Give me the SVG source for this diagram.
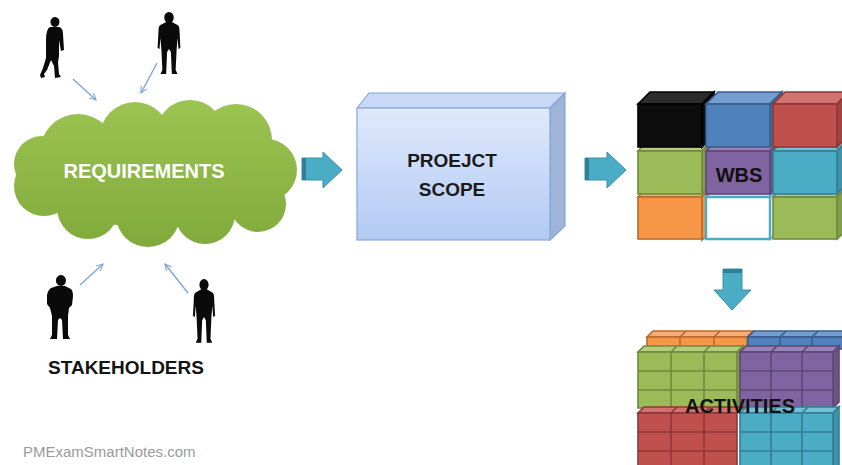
<svg xmlns="http://www.w3.org/2000/svg" width="842" height="465" viewBox="0 0 842 465">
  <defs>
    <style>
      .lbl { font-family: "Liberation Sans", Arial, sans-serif; font-weight: bold; text-anchor: middle; }
      .person { fill: #0a0a0a; }
      .thin { fill: none; stroke: #7ea6d8; stroke-width: 1.4; }
      .barrow { fill: #4bacc6; stroke: #3a90a8; stroke-width: 1; }
      .bevel { fill: #2f8097; }
      .cell { stroke-width: 1.6; }
      .c-org { fill: #f79646; stroke: #b9692e; }
      .c-org-t { fill: #f9ad75; stroke: #b9692e; }
      .c-blu { fill: #4f81bd; stroke: #385d8a; }
      .c-blu-t { fill: #769dd0; stroke: #385d8a; }
      .c-blu-s { fill: #3f6ba1; stroke: #385d8a; }
      .c-red { fill: #c0504d; stroke: #8c3836; }
      .c-red-t { fill: #d27370; stroke: #8c3836; }
      .c-red-s { fill: #a24340; stroke: #8c3836; }
      .c-grn { fill: #9bbb59; stroke: #71893f; }
      .c-grn-t { fill: #b3cd7b; stroke: #71893f; }
      .c-grn-s { fill: #83a049; stroke: #71893f; }
      .c-pur { fill: #8064a2; stroke: #5c4776; }
      .c-pur-t { fill: #9a83b7; stroke: #5c4776; }
      .c-pur-s { fill: #6c5489; stroke: #5c4776; }
      .c-tea { fill: #4bacc6; stroke: #357d91; }
      .c-tea-t { fill: #74c0d4; stroke: #357d91; }
      .c-tea-s { fill: #3c93aa; stroke: #357d91; }
      .c-blk { fill: #0d0d0d; stroke: #000; }
      .c-blk-t { fill: #2c2c2c; stroke: #000; }
      .c-wht { fill: #ffffff; stroke: #4bacc6; }
      .c-wht-t { fill: #eaf6f9; stroke: #4bacc6; }
    </style>
    <linearGradient id="cloudFill" gradientUnits="userSpaceOnUse" x1="0" y1="100" x2="0" y2="247">
      <stop offset="0" stop-color="#9cc452"/>
      <stop offset="1" stop-color="#80aa3b"/>
    </linearGradient>
    <linearGradient id="boxFront" x1="0" y1="0" x2="0" y2="1">
      <stop offset="0" stop-color="#dfe9fc"/>
      <stop offset="1" stop-color="#b2caf3"/>
    </linearGradient>
    <marker id="vhead" viewBox="0 0 10 10" refX="9" refY="5" markerWidth="8" markerHeight="8" orient="auto" markerUnits="userSpaceOnUse">
      <path d="M1,1 L9,5 L1,9" fill="none" stroke="#7ea6d8" stroke-width="1.4"/>
    </marker>
    <!-- standing figure, feet at y=62 -->
    <path id="standing" d="M-3,10 L3,10 L9,13 Q11,14 11,18 L12,36 L10,37 L9,26 L8,38 L7,58 L9,62 L3,62 L2,40 L0,37 L-2,40 L-3,62 L-9,62 L-7,58 L-8,38 L-9,26 L-10,37 L-12,36 L-11,18 Q-11,14 -9,13 Z M0,0 A5,5.5 0 1 1 0,11 A5,5.5 0 1 1 0,0 Z"/>
  </defs>

  <rect width="842" height="465" fill="#ffffff"/>

  <!-- requirements cloud -->
  <g id="requirements">
    <g fill="url(#cloudFill)">
      <ellipse cx="155" cy="173" rx="122" ry="55"/>
      <circle cx="78" cy="152" r="38"/>
      <circle cx="135" cy="137" r="35"/>
      <circle cx="190" cy="134" r="34"/>
      <circle cx="236" cy="140" r="36"/>
      <circle cx="266" cy="170" r="31"/>
      <circle cx="258" cy="204" r="28"/>
      <circle cx="205" cy="214" r="30"/>
      <circle cx="148" cy="215" r="32"/>
      <circle cx="88" cy="208" r="31"/>
      <circle cx="44" cy="186" r="30"/>
      <circle cx="42" cy="164" r="28"/>
    </g>
    <text class="lbl" x="144" y="178" font-size="20" fill="#ffffff">REQUIREMENTS</text>
  </g>

  <!-- stakeholders -->
  <g id="stakeholders">
    <!-- walking figure -->
    <path class="person" d="M55,17 a4.5,5 0 1 1 -0.1,0 Z M50,27 L59,27 Q63,28 63,34 L64,50 L61,51 L59,40 L59,56 L58,62 L59,74 L61,77 L55,78 L54,66 L51,60 L47,70 L44,74 L45,77 L41,78 L40,75 L43,68 L46,58 L46,40 Q46,29 50,27 Z"/>
    <use href="#standing" class="person" transform="translate(169,12) scale(0.95,1)"/>
    <!-- arms-folded figure -->
    <path class="person" d="M61,275 a5,5.5 0 1 1 -0.1,0 Z M57,286 L65,286 L71,289 Q73,291 73,296 L72,305 L69,308 L68,316 L68,335 L70,339 L63,339 L62,320 L60,318 L58,320 L57,339 L50,339 L52,335 L52,316 L50,308 L47,304 L47,295 Q48,290 51,288 Z"/>
    <use href="#standing" class="person" transform="translate(204,279) scale(0.92,1.03)"/>
    <text class="lbl" x="126" y="374" font-size="19" fill="#141414">STAKEHOLDERS</text>
  </g>

  <!-- project scope box -->
  <g id="project-scope">
    <polygon points="357,108 369,93 565,93 550,108" fill="#c9d9f5" stroke="#87a5d8" stroke-width="1.2"/>
    <polygon points="550,108 565,93 565,226 550,240" fill="#9fb4d9" stroke="#87a5d8" stroke-width="1.2"/>
    <rect x="357" y="108" width="193" height="132" fill="url(#boxFront)" stroke="#87a5d8" stroke-width="1.2"/>
    <text class="lbl" x="452" y="167" font-size="19" fill="#1a1a1a">PROEJCT</text>
    <text class="lbl" x="452" y="196" font-size="19" fill="#1a1a1a">SCOPE</text>
  </g>

  <!-- work breakdown structure blocks, lowest row first so upper rows sit in front -->
  <g id="wbs" class="cell" stroke-width="2">
    <!-- row 3 -->
    <polygon class="c-org-t" points="638,197 650,185 714,185 702,197"/>
    <polygon class="c-org" points="702,197 714,185 714,228 702,240"/>
    <rect class="c-org" x="638" y="197" width="64" height="42"/>
    <polygon class="c-wht-t" points="706,197 718,185 782,185 770,197"/>
    <polygon class="c-wht" points="770,197 782,185 782,228 770,239"/>
    <rect class="c-wht" x="706" y="197" width="64" height="42" stroke-width="2.5"/>
    <polygon class="c-grn-t" points="773,197 785,185 849,185 837,197"/>
    <polygon class="c-grn-s" points="837,197 849,185 849,228 837,239"/>
    <rect class="c-grn" x="773" y="197" width="64" height="42"/>
    <!-- row 2 -->
    <polygon class="c-grn-t" points="638,151 650,139 714,139 702,151"/>
    <polygon class="c-grn-s" points="702,151 714,139 714,182 702,194"/>
    <rect class="c-grn" x="638" y="151" width="64" height="43"/>
    <polygon class="c-pur-t" points="706,151 718,139 782,139 770,151"/>
    <polygon class="c-pur-s" points="770,151 782,139 782,182 770,194"/>
    <rect class="c-pur" x="706" y="151" width="64" height="43"/>
    <polygon class="c-tea-t" points="773,151 785,139 849,139 837,151"/>
    <polygon class="c-tea-s" points="837,151 849,139 849,182 837,194"/>
    <rect class="c-tea" x="773" y="151" width="64" height="43"/>
    <!-- row 1 -->
    <polygon class="c-blk-t" points="638,104 650,92 714,92 702,104"/>
    <polygon class="c-blk" points="702,104 714,92 714,135 702,147"/>
    <rect class="c-blk" x="638" y="104" width="64" height="43"/>
    <polygon class="c-blu-t" points="706,104 718,92 782,92 770,104"/>
    <polygon class="c-blu-s" points="770,104 782,92 782,135 770,147"/>
    <rect class="c-blu" x="706" y="104" width="64" height="43"/>
    <polygon class="c-red-t" points="773,104 785,92 849,92 837,104"/>
    <polygon class="c-red-s" points="837,104 849,92 849,135 837,147"/>
    <rect class="c-red" x="773" y="104" width="64" height="43"/>
    <text class="lbl" x="739" y="182" font-size="20" fill="#111111" stroke="none">WBS</text>
  </g>

  <!-- activities blocks -->
  <g id="activities" class="cell">
    <!-- back row -->
    <polygon class="c-org-t" points="647,337 653,331 753,331 747,337"/>
    <rect class="c-org" x="647" y="337" width="100" height="12"/>
    <path class="c-org" fill="none" d="M680,337 V349 M714,337 V349 M680,337 L686,331 M714,337 L720,331"/>
    <polygon class="c-blu-t" points="748,337 754,331 849,331 843,337"/>
    <rect class="c-blu" x="748" y="337" width="95" height="12"/>
    <path class="c-blu" fill="none" d="M780,337 V349 M812,337 V349 M780,337 L786,331 M812,337 L818,331"/>
    <!-- middle row -->
    <polygon class="c-grn-t" points="638,352 644,346 743,346 737,352"/>
    <polygon class="c-grn-s" points="737,352 743,346 743,402 737,408"/>
    <rect class="c-grn" x="638" y="352" width="99" height="56"/>
    <path class="c-grn" fill="none" d="M671,352 V408 M704,352 V408 M638,371 H737 M638,390 H737 M671,352 L677,346 M704,352 L710,346"/>
    <polygon class="c-pur-t" points="740,352 746,346 839,346 833,352"/>
    <polygon class="c-pur-s" points="833,352 839,346 839,402 833,408"/>
    <rect class="c-pur" x="740" y="352" width="93" height="56"/>
    <path class="c-pur" fill="none" d="M771,352 V408 M802,352 V408 M740,371 H833 M740,390 H833 M771,352 L777,346 M802,352 L808,346"/>
    <!-- front row -->
    <polygon class="c-red-t" points="638,413 644,407 743,407 737,413"/>
    <rect class="c-red" x="638" y="413" width="99" height="60"/>
    <path class="c-red" fill="none" d="M671,413 V473 M704,413 V473 M638,432 H737 M638,451 H737 M671,413 L677,407 M704,413 L710,407"/>
    <polygon class="c-tea-t" points="740,413 746,407 839,407 833,413"/>
    <polygon class="c-tea-s" points="833,413 839,407 839,473 833,473"/>
    <rect class="c-tea" x="740" y="413" width="93" height="60"/>
    <path class="c-tea" fill="none" d="M771,413 V473 M802,413 V473 M740,432 H833 M740,451 H833 M771,413 L777,407 M802,413 L808,407"/>
    <text class="lbl" x="740" y="413" font-size="20" fill="#111111" stroke="none">ACTIVITIES</text>
  </g>

  <!-- connectors -->
  <g id="connectors">
    <line class="thin" x1="73" y1="79" x2="96" y2="100" marker-end="url(#vhead)"/>
    <line class="thin" x1="157" y1="63" x2="141" y2="93" marker-end="url(#vhead)"/>
    <line class="thin" x1="80" y1="285" x2="103" y2="264" marker-end="url(#vhead)"/>
    <line class="thin" x1="188" y1="293" x2="165" y2="264" marker-end="url(#vhead)"/>

    <polygon class="barrow" points="302,158 323,158 323,152 342,170 323,188 323,180 302,180"/>
    <rect class="bevel" x="302" y="158" width="4" height="22"/>
    <polygon class="barrow" points="585,158 607,158 607,152 626,170 607,188 607,180 585,180"/>
    <rect class="bevel" x="585" y="158" width="4" height="22"/>
    <polygon class="barrow" points="723,269 742,269 742,290 751,290 732,310 714,290 723,290"/>
    <rect class="bevel" x="723" y="269" width="19" height="4"/>
  </g>

  <text x="23" y="457" font-family="'Liberation Sans', Arial, sans-serif" font-size="15" fill="#9a9a9a">PMExamSmartNotes.com</text>
</svg>
